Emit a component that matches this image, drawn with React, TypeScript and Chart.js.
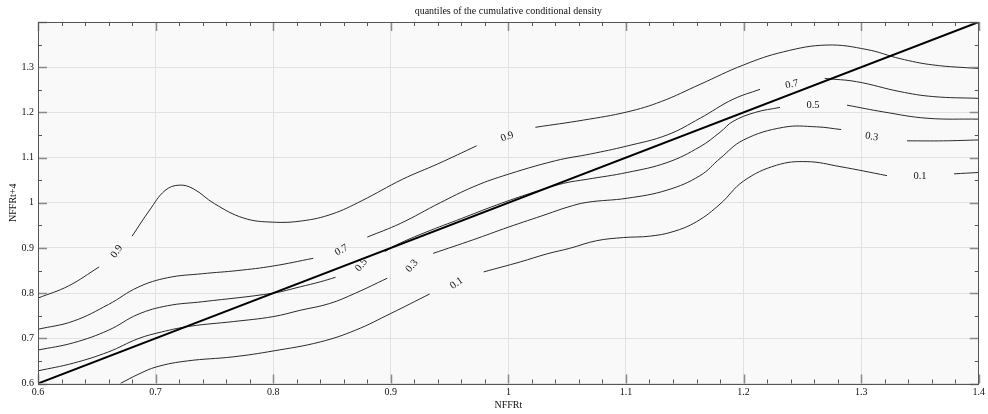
import React, { useEffect, useRef } from 'react';
import { Chart, registerables } from 'chart.js';

Chart.register(...registerables);

// ---- axis ranges / ticks ----
const X_MIN = 0.6;
const X_MAX = 1.4;
const Y_MIN = 0.6;
const Y_MAX = 1.4;
const TICK_STEP = 0.1;
const X_MINOR_STEP = 0.02;
const Y_MINOR_STEP = 0.05;

const TITLE = 'quantiles of the cumulative conditional density';
const X_TITLE = 'NFFRt';
const Y_TITLE = 'NFFRt+4';

// ---- diagonal reference line (y = x) ----
const diagonal: [number, number][] = [[0.6, 0.6], [1.4, 1.4]];

// ---- contour 0.9 ----
const q09A: [number, number][] = [[0.6, 0.789], [0.626, 0.816], [0.652, 0.858]];
const q09B: [number, number][] = [[0.68, 0.926], [0.695, 0.984], [0.708, 1.027], [0.72, 1.039], [0.732, 1.031], [0.75, 0.998], [0.775, 0.966], [0.8, 0.957], [0.825, 0.96], [0.85, 0.975], [0.875, 1.004], [0.91, 1.052], [0.94, 1.086], [0.973, 1.126]];
const q09C: [number, number][] = [[1.023, 1.167], [1.064, 1.183], [1.101, 1.201], [1.13, 1.224], [1.163, 1.262], [1.2, 1.305], [1.234, 1.334], [1.271, 1.349], [1.305, 1.339], [1.333, 1.319], [1.361, 1.305], [1.4, 1.297]];

// ---- contour 0.7 ----
const q07A: [number, number][] = [[0.6, 0.72], [0.63, 0.738], [0.66, 0.775], [0.685, 0.813], [0.71, 0.834], [0.74, 0.843], [0.77, 0.85], [0.8, 0.86], [0.834, 0.877]];
const q07B: [number, number][] = [[0.88, 0.924], [0.908, 0.954], [0.942, 1.0], [0.97, 1.035], [0.995, 1.059], [1.04, 1.093], [1.07, 1.108], [1.1, 1.125], [1.135, 1.15], [1.163, 1.187], [1.191, 1.229], [1.214, 1.251]];
const q07C: [number, number][] = [[1.269, 1.275], [1.296, 1.268], [1.333, 1.246], [1.361, 1.235], [1.4, 1.231]];

// ---- contour 0.5 ----
const q05A: [number, number][] = [[0.6, 0.674], [0.63, 0.69], [0.66, 0.718], [0.685, 0.753], [0.71, 0.772], [0.74, 0.781], [0.8, 0.8], [0.823, 0.814], [0.84, 0.825], [0.853, 0.835]];
const q05B: [number, number][] = [[0.895, 0.892], [0.905, 0.907], [0.93, 0.935], [0.96, 0.965], [0.99, 0.995], [1.02, 1.022], [1.047, 1.043], [1.067, 1.052], [1.101, 1.067], [1.135, 1.089], [1.163, 1.124], [1.18, 1.156], [1.191, 1.18], [1.21, 1.2], [1.231, 1.211]];
const q05C: [number, number][] = [[1.288, 1.216], [1.319, 1.201], [1.356, 1.187], [1.4, 1.185]];

// ---- contour 0.3 ----
const q03A: [number, number][] = [[0.6, 0.628], [0.63, 0.645], [0.66, 0.67], [0.685, 0.699], [0.705, 0.714], [0.73, 0.727], [0.766, 0.737], [0.8, 0.748], [0.823, 0.762], [0.848, 0.777], [0.87, 0.8], [0.897, 0.833]];
const q03B: [number, number][] = [[0.936, 0.888], [0.97, 0.918], [1.0, 0.946], [1.033, 0.975], [1.05, 0.99], [1.067, 1.001], [1.101, 1.01], [1.135, 1.028], [1.163, 1.06], [1.18, 1.098], [1.2, 1.139], [1.234, 1.167], [1.262, 1.168], [1.283, 1.162]];
const q03C: [number, number][] = [[1.339, 1.137], [1.37, 1.137], [1.4, 1.139]];

// ---- contour 0.1 ----
const q01A: [number, number][] = [[0.67, 0.6], [0.685, 0.62], [0.701, 0.637], [0.727, 0.65], [0.766, 0.659], [0.8, 0.672], [0.84, 0.692], [0.87, 0.718], [0.9, 0.755], [0.933, 0.798]];
const q01B: [number, number][] = [[0.979, 0.847], [1.01, 0.869], [1.033, 0.887], [1.052, 0.899], [1.075, 0.916], [1.098, 0.923], [1.12, 0.926], [1.14, 0.936], [1.16, 0.958], [1.18, 0.997], [1.2, 1.048], [1.228, 1.083], [1.254, 1.091], [1.282, 1.08], [1.322, 1.06]];
const q01C: [number, number][] = [[1.379, 1.064], [1.4, 1.067]];

// ---- contour labels ----
const labelTexts = ['0.9', '0.9', '0.7', '0.5', '0.3', '0.1', '0.7', '0.5', '0.3', '0.1'];
const labelX = [0.667, 0.999, 0.858, 0.875, 0.918, 0.956, 1.241, 1.259, 1.309, 1.35];
const labelY = [0.892, 1.146, 0.895, 0.862, 0.86, 0.822, 1.262, 1.215, 1.146, 1.058];
const labelAngle = [-55, -20, -30, -50, -50, -35, -12, 0, 10, 0];

const contourSegments = [q09A, q09B, q09C, q07A, q07B, q07C, q05A, q05B, q05C, q03A, q03B, q03C, q01A, q01B, q01C];

const FONT = '"Liberation Serif", "Times New Roman", serif';

const fmt = (v: number) => String(Math.round(v * 10) / 10);

const decorPlugin = {
  id: 'decor',
  beforeDraw(chart: any) {
    const { ctx, chartArea: a } = chart;
    ctx.save();
    ctx.fillStyle = '#ffffff';
    ctx.fillRect(0, 0, chart.width, chart.height);
    ctx.fillStyle = '#f9f9f9';
    ctx.fillRect(a.left, a.top, a.right - a.left, a.bottom - a.top);
    ctx.restore();
  },
  afterDatasetsDraw(chart: any) {
    const { ctx } = chart;
    const xs = chart.scales.x;
    const ys = chart.scales.y;
    ctx.save();
    ctx.fillStyle = '#111';
    ctx.font = `10.5px ${FONT}`;
    ctx.textAlign = 'center';
    ctx.textBaseline = 'middle';
    for (let i = 0; i < labelTexts.length; i++) {
      const px = xs.getPixelForValue(labelX[i]);
      const py = ys.getPixelForValue(labelY[i]);
      ctx.save();
      ctx.translate(px, py);
      ctx.rotate((labelAngle[i] * Math.PI) / 180);
      ctx.fillText(labelTexts[i], 0, 0);
      ctx.restore();
    }
    ctx.restore();
  },
  afterDraw(chart: any) {
    const { ctx, chartArea: a } = chart;
    const xs = chart.scales.x;
    const ys = chart.scales.y;
    ctx.save();
    // ticks (inward, all four sides)
    const nx = Math.round((X_MAX - X_MIN) / X_MINOR_STEP);
    for (let i = 0; i <= nx; i++) {
      const v = X_MIN + i * X_MINOR_STEP;
      const major = i % 5 === 0;
      const p = Math.round(xs.getPixelForValue(v)) + 0.5;
      const len = major ? 9 : 4;
      ctx.strokeStyle = major ? '#8a8a8a' : '#555';
      ctx.lineWidth = major ? 1.5 : 1;
      ctx.beginPath();
      ctx.moveTo(p, a.bottom);
      ctx.lineTo(p, a.bottom - len);
      ctx.moveTo(p, a.top);
      ctx.lineTo(p, a.top + len);
      ctx.stroke();
    }
    const ny = Math.round((Y_MAX - Y_MIN) / Y_MINOR_STEP);
    for (let i = 0; i <= ny; i++) {
      const v = Y_MIN + i * Y_MINOR_STEP;
      const major = i % 2 === 0;
      const p = Math.round(ys.getPixelForValue(v)) + 0.5;
      const len = major ? 9 : 4;
      ctx.strokeStyle = major ? '#8a8a8a' : '#555';
      ctx.lineWidth = major ? 1.5 : 1;
      ctx.beginPath();
      ctx.moveTo(a.left, p);
      ctx.lineTo(a.left + len, p);
      ctx.moveTo(a.right, p);
      ctx.lineTo(a.right - len, p);
      ctx.stroke();
    }
    // frame
    ctx.strokeStyle = '#555';
    ctx.lineWidth = 1;
    ctx.strokeRect(Math.round(a.left) + 0.5, Math.round(a.top) + 0.5, Math.round(a.right - a.left) - 1, Math.round(a.bottom - a.top));
    // titles
    ctx.fillStyle = '#111';
    ctx.font = `10px ${FONT}`;
    ctx.textAlign = 'center';
    ctx.textBaseline = 'middle';
    ctx.fillText(TITLE, (a.left + a.right) / 2, 11);
    ctx.fillText(X_TITLE, (a.left + a.right) / 2, 405);
    ctx.save();
    ctx.translate(13, (a.top + a.bottom) / 2);
    ctx.rotate(-Math.PI / 2);
    ctx.fillText(Y_TITLE, 0, 0);
    ctx.restore();
    ctx.restore();
  },
};

export default function App() {
  const ref = useRef<HTMLCanvasElement>(null);
  useEffect(() => {
    const toPts = (s: [number, number][]) => s.map(([x, y]) => ({ x, y }));
    const datasets: any[] = contourSegments.map((seg) => ({
      data: toPts(seg),
      showLine: true,
      borderColor: '#2a2a2a',
      borderWidth: 1,
      pointRadius: 0,
      tension: 0.4,
      fill: false,
    }));
    datasets.unshift({
      data: toPts(diagonal),
      showLine: true,
      borderColor: '#000',
      borderWidth: 2,
      pointRadius: 0,
      fill: false,
    });
    const chart = new Chart(ref.current as HTMLCanvasElement, {
      type: 'scatter',
      data: { datasets },
      options: {
        responsive: false,
        animation: false,
        devicePixelRatio: 1,
        layout: { padding: { top: 22, right: 9, left: 0, bottom: 0 } },
        plugins: { legend: { display: false }, tooltip: { enabled: false }, title: { display: false } },
        scales: {
          x: {
            type: 'linear',
            min: X_MIN,
            max: X_MAX,
            border: { display: false },
            grid: { color: '#e2e2e2', lineWidth: 1, drawTicks: false },
            ticks: {
              stepSize: TICK_STEP,
              autoSkip: false,
              maxRotation: 0,
              padding: 3,
              color: '#111',
              font: { family: FONT, size: 10 },
              callback: (v: any) => fmt(Number(v)),
            },
            afterFit: (s: any) => {
              s.height = 30.5;
            },
          },
          y: {
            type: 'linear',
            min: Y_MIN,
            max: Y_MAX,
            border: { display: false },
            grid: { color: '#e2e2e2', lineWidth: 1, drawTicks: false },
            ticks: {
              stepSize: TICK_STEP,
              autoSkip: false,
              padding: 4,
              color: '#111',
              font: { family: FONT, size: 10 },
              callback: (v: any) => (Number(v) > Y_MAX - 0.05 ? '' : fmt(Number(v))),
            },
            afterFit: (s: any) => {
              s.width = 38;
            },
          },
        },
      },
      plugins: [decorPlugin],
    } as any);
    return () => chart.destroy();
  }, []);
  return (
    <div style={{ position: 'absolute', left: 0, top: 0, width: 988, height: 414, background: '#fff' }}>
      <canvas ref={ref} width={988} height={414} style={{ display: 'block', width: 988, height: 414 }} />
    </div>
  );
}
